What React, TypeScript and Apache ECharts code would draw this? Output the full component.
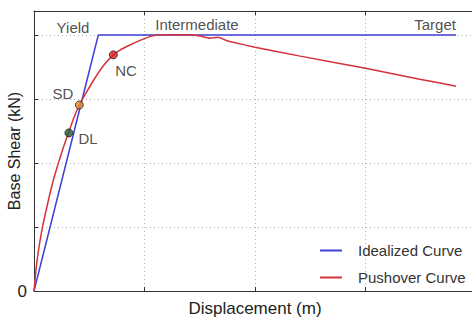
import React, { useEffect, useRef } from "react";
import * as echarts from "echarts";

const idealizedX = [0, 0.582, 3.82];
const idealizedY = [0, 4, 4];

const pushoverX = [0, 0.0167, 0.0398, 0.0747, 0.1186, 0.1611, 0.2152, 0.2701, 0.312, 0.3566, 0.41, 0.471, 0.552, 0.633, 0.718, 0.778, 0.869, 1.005, 1.077, 1.186, 1.412, 1.502, 1.593, 1.665, 1.729, 1.792, 2.0, 2.41, 3.0, 3.49, 3.82];
const pushoverY = [0, 0.3125, 0.625, 0.984, 1.328, 1.641, 1.969, 2.266, 2.47, 2.6875, 2.906, 3.094, 3.328, 3.531, 3.69, 3.765, 3.844, 3.948, 3.989, 4.003, 4.005, 3.984, 3.95, 3.965, 3.922, 3.89, 3.81, 3.67, 3.48, 3.31, 3.2];

const markerNames = ["DL", "SD", "NC"];
const markerX = [0.316, 0.41, 0.718];
const markerY = [2.47, 2.906, 3.69];
const markerColors = ["#1d5a3c", "#e8892c", "#e01b1b"];

const labelNames = ["Yield", "Intermediate", "Target", "SD", "DL", "NC"];
const labelX = [0.353, 1.475, 3.63, 0.262, 0.489, 0.833];
const labelY = [4.11, 4.17, 4.16, 3.09, 2.39, 3.44];

const FONT = "'Liberation Sans', Arial, sans-serif";

export default function App() {
  const ref = useRef<HTMLDivElement>(null);
  useEffect(() => {
    document.body.style.margin = "0";
    const chart = echarts.init(ref.current!, null, { renderer: "svg" });
    const grid = "#b0b0b0";
    chart.setOption({
      animation: false,
      grid: { left: 34, top: 11, width: 442, height: 280, outerBoundsMode: "none", containLabel: false },
      legend: {
        data: ["Idealized Curve", "Pushover Curve"],
        orient: "vertical",
        left: 315,
        top: 238,
        icon: "rect",
        itemWidth: 22,
        itemHeight: 2,
        itemGap: 12,
        textStyle: { fontFamily: FONT, fontSize: 15, color: "#333", padding: [0, 0, 0, 11] },
      },
      xAxis: [
        {
          type: "value",
          min: 0,
          max: 4,
          interval: 1,
          name: "Displacement (m)",
          nameLocation: "middle",
          nameGap: 9,
          nameMoveOverlap: false,
          nameTextStyle: { fontFamily: FONT, fontSize: 17, color: "#222" },
          axisLine: { lineStyle: { color: "#333", width: 1 } },
          axisTick: { inside: true, length: 4, lineStyle: { color: "#333" } },
          axisLabel: { show: false },
          splitLine: { show: true, lineStyle: { color: grid, type: [1, 3], width: 1 } },
        },
        {
          type: "value",
          position: "top",
          min: 0,
          max: 4,
          interval: 1,
          axisLine: { show: true, lineStyle: { color: "#333", width: 1 } },
          axisTick: { inside: true, length: 4, lineStyle: { color: "#333" } },
          axisLabel: { show: false },
          splitLine: { show: false },
        },
      ],
      yAxis: {
        type: "value",
        min: 0,
        max: 4.375,
        interval: 1,
        name: "Base Shear (kN)",
        nameLocation: "middle",
        nameGap: 12,
        nameMoveOverlap: false,
        nameTextStyle: { fontFamily: FONT, fontSize: 16, color: "#222" },
        axisLine: { show: true, lineStyle: { color: "#333", width: 1 } },
        axisTick: { show: true, inside: true, length: 4, lineStyle: { color: "#333" } },
        axisLabel: {
          formatter: (v: number) => (v === 0 ? "0" : ""),
          fontFamily: FONT,
          fontSize: 17,
          color: "#222",
          margin: 7,
        },
        splitLine: { show: true, lineStyle: { color: grid, type: [1, 3], width: 1 } },
      },
      series: [
        {
          name: "Idealized Curve",
          type: "line",
          data: idealizedX.map((x, i) => [x, idealizedY[i]]),
          showSymbol: false,
          symbol: "none",
          lineStyle: { color: "#3f3fd8", width: 1.5 },
          itemStyle: { color: "#3f3fd8" },
          z: 3,
        },
        {
          name: "Pushover Curve",
          type: "line",
          data: pushoverX.map((x, i) => [x, pushoverY[i]]),
          smooth: 0.15,
          showSymbol: false,
          symbol: "none",
          lineStyle: { color: "#d4323c", width: 1.5 },
          itemStyle: { color: "#d4323c" },
          z: 4,
        },
        {
          name: "markers",
          type: "scatter",
          data: markerX.map((x, i) => ({
            value: [x, markerY[i]],
            name: markerNames[i],
            itemStyle: { color: markerColors[i], borderColor: "#222", borderWidth: 1 },
          })),
          symbolSize: 8,
          z: 6,
        },
        {
          name: "labels",
          type: "scatter",
          data: labelX.map((x, i) => ({ value: [x, labelY[i]], name: labelNames[i] })),
          symbolSize: 2,
          itemStyle: { color: "rgba(0,0,0,0)" },
          label: {
            show: true,
            position: "inside",
            formatter: (p: any) => p.name,
            fontFamily: FONT,
            fontSize: 15,
            color: "#222",
          },
          z: 7,
        },
      ],
    });
    return () => chart.dispose();
  }, []);
  return <div ref={ref} style={{ width: 472, height: 321 }} />;
}
